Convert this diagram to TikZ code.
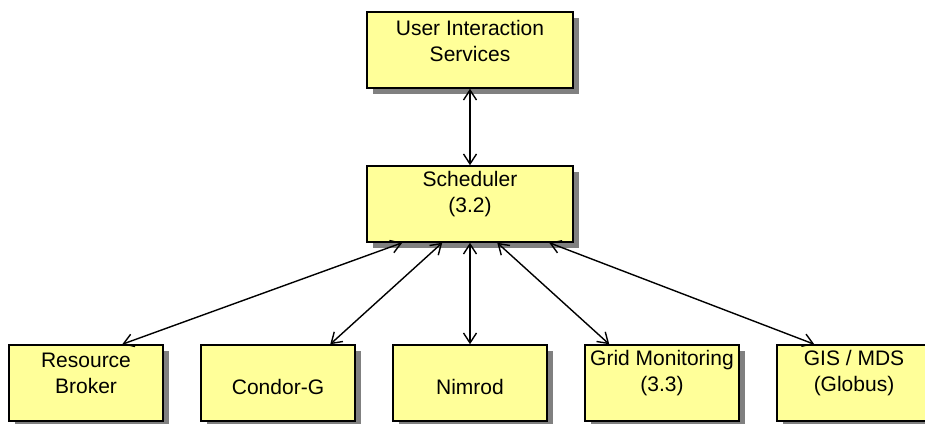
\documentclass[tikz,border=0pt]{standalone}
\usepackage{fontspec}
\setmainfont{Liberation Sans}
\usetikzlibrary{arrows.meta,calc,shadows}
\definecolor{boxyellow}{HTML}{FFFF99}
\begin{document}
\begin{tikzpicture}[x=1pt,y=-1pt,
  box/.style={draw=black,line width=1.5pt,fill=boxyellow,minimum width=154,minimum height=76,inner sep=0,
    drop shadow={shadow xshift=6pt,shadow yshift=-6pt,fill=black!50,opacity=1}},
  txt/.style={font=\fontsize{21}{26}\selectfont,align=center,inner sep=0},
  tipb/.tip={Straight Barb[length=10pt,width=13pt,line width=1.4pt]},
  link/.style={line width=1.4pt,tipb-tipb}]
\useasboundingbox (0,0) rectangle (925,423);
\node[box,minimum width=206] (uis) at (470,50) {};
\node[box,minimum width=206] (sch) at (470,204) {};
\node[box] (rb) at (86,383) {};
\node[box] (cg) at (278,383) {};
\node[box] (nim) at (470,383) {};
\node[box] (gm) at (662,383) {};
\node[box] (gis) at (854,383) {};
\node[txt] (uist) at ($(uis.center)+(0,-9.5)$) {User Interaction\\Services};
\node[txt] (scht) at ($(sch.center)+(0,-9.5)$) {Scheduler\\(3.2)};
\node[txt] (rbt) at ($(rb.center)+(0,-9.5)$) {Resource\\Broker};
\node[txt] (cgt) at ($(cg.center)+(0,3.5)$) {Condor-G};
\node[txt] (nimt) at ($(nim.center)+(0,3.5)$) {Nimrod};
\node[txt] (gmt) at ($(gm.center)+(0,-9.5)$) {Grid Monitoring\\(3.3)};
\node[txt] (gist) at ($(gis.center)+(0,-9.5)$) {GIS / MDS\\(Globus)};
\draw[link] (uis.south) -- (sch.north);
\draw[link] ($(sch.south west)+(36,0)$) -- ($(rb.north west)+(114,0)$);
\draw[link] ($(sch.south west)+(76,0)$) -- ($(cg.north west)+(130,0)$);
\draw[link] (sch.south) -- (nim.north);
\draw[link] ($(sch.south west)+(131,0)$) -- ($(gm.north west)+(25,0)$);
\draw[link] ($(sch.south west)+(183,0)$) -- ($(gis.north west)+(38,0)$);
\end{tikzpicture}
\end{document}
